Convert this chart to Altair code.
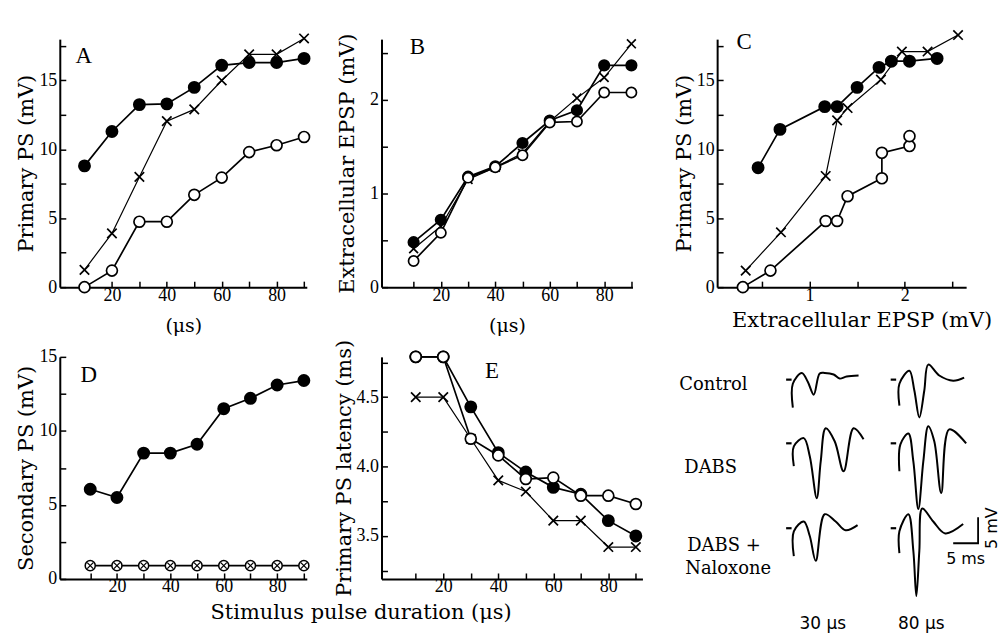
import altair as alt
import pandas as pd

# ---------------- data ----------------
dur = [10, 20, 30, 40, 50, 60, 70, 80, 90]

# A: primary PS (mV) vs stimulus duration
a_filled = [8.8, 11.3, 13.25, 13.3, 14.5, 16.1, 16.3, 16.3, 16.6]
a_cross = [1.25, 3.9, 8.0, 12.05, 12.9, 15.0, 16.9, 16.9, 18.05]
a_open = [0.0, 1.2, 4.75, 4.75, 6.7, 7.95, 9.8, 10.3, 10.9]

# B: extracellular EPSP (mV) vs stimulus duration
b_filled = [0.48, 0.72, 1.18, 1.29, 1.54, 1.78, 1.89, 2.37, 2.37]
b_cross = [0.41, 0.65, 1.15, 1.28, 1.43, 1.77, 2.02, 2.24, 2.60]
b_open = [0.28, 0.58, 1.17, 1.28, 1.41, 1.76, 1.77, 2.08, 2.08]

# C: primary PS vs extracellular EPSP
c_filled_x = [0.46, 0.69, 1.16, 1.29, 1.50, 1.73, 1.86, 2.05, 2.34]
c_filled_y = [8.67, 11.45, 13.1, 13.1, 14.5, 15.95, 16.4, 16.4, 16.6]
c_cross_x = [0.33, 0.70, 1.17, 1.29, 1.40, 1.75, 1.97, 2.24, 2.56]
c_cross_y = [1.2, 3.98, 8.07, 12.1, 13.0, 15.06, 17.1, 17.1, 18.3]
c_open_x = [0.30, 0.59, 1.17, 1.29, 1.40, 1.76, 1.76, 2.05, 2.05]
c_open_y = [0.0, 1.2, 4.8, 4.8, 6.6, 7.9, 9.75, 10.24, 10.96]

# D: secondary PS (mV)
d_filled = [6.06, 5.5, 8.5, 8.5, 9.1, 11.5, 12.2, 13.1, 13.4]
d_crossed = [0.9, 0.9, 0.9, 0.9, 0.9, 0.9, 0.9, 0.9, 0.9]

# E: primary PS latency (ms)
e_filled = [4.79, 4.79, 4.43, 4.10, 3.96, 3.85, 3.80, 3.61, 3.50]
e_open = [4.79, 4.79, 4.20, 4.08, 3.91, 3.92, 3.79, 3.79, 3.73]
e_cross = [4.50, 4.50, 4.20, 3.90, 3.82, 3.61, 3.61, 3.42, 3.42]

# F: field potential traces (time ms, voltage mV relative to trace start)
c30_t = [0.8, 0.8, 2.6, 3.8, 5.0, 6.2, 7.2, 9.0, 10.2, 11.6, 14.0]
c30_v = [-5.4, -0.8, 1.3, -0.4, -2.9, 1.2, 1.3, 1.0, 0.2, 0.6, 0.8]
c80_t = [1.2, 1.2, 3.2, 4.2, 5.2, 6.2, 7.0, 9.2, 12.0, 14.2]
c80_v = [-5.0, -0.8, 1.7, -2.1, -7.3, -2.1, 2.9, 0.8, -0.2, 0.4]
d30_t = [1.0, 1.0, 3.0, 4.2, 5.6, 6.4, 7.4, 9.2, 11.0, 13.0, 15.0]
d30_v = [-4.4, -0.6, 1.0, -2.5, -10.6, -3.5, 2.9, 0.4, -5.4, 2.9, 0.8]
d80_t = [1.2, 1.4, 3.0, 4.0, 5.0, 6.0, 7.0, 8.2, 9.6, 11.2, 14.6]
d80_v = [-5.4, -0.2, 1.9, -3.5, -12.7, -3.5, 3.3, 0.4, -9.6, 2.7, 0.0]
n30_t = [1.0, 1.0, 3.0, 4.2, 5.4, 7.2, 9.4, 11.4, 13.8]
n30_v = [-5.4, -0.6, 1.3, -1.5, -6.3, 2.7, 1.3, -0.4, 0.6]
n80_t = [1.2, 1.2, 3.0, 4.0, 4.6, 5.2, 5.8, 8.0, 10.4, 14.0]
n80_v = [-4.8, -0.6, 2.7, -4.4, -13.1, -4.4, 3.8, 1.3, -1.0, 0.8]

row_labels = ["Control", "DABS", "DABS +", "Naloxone"]
col_labels = ["30 μs", "80 μs"]
scale_ms = 5
scale_mv = 5

# ---------------- layout (trace panel placement) ----------------
ROW_V = [38.5, 26.2, 9.8]          # baseline of each trace row (mV in panel units)
COL_T = [24.4, 45.4]               # start of each trace column (ms in panel units)
ROWLAB_T = [2.4, 3.4, 4.0, 3.6]
ROWLAB_V = [37.5, 21.5, 6.4, 1.9]
COLLAB_T = [31.2, 51.0]
COLLAB_V = -8.7
BAR_CORNER = (62.4, 6.9)

SERIF = "DejaVu Serif"
TICKF = "Liberation Serif"
CROSS = "M-1,-1L1,1M-1,1L1,-1"


def frame(xs, ys):
    return pd.DataFrame({"x": xs, "y": ys, "i": list(range(len(xs)))})


def panel(series, xscale, yscale, xaxis, yaxis, w, h, letter, lx, ly, msize=120):
    def enc(c):
        return c.encode(
            x=alt.X("x:Q", scale=xscale, axis=xaxis),
            y=alt.Y("y:Q", scale=yscale, axis=yaxis),
            order="i:Q",
        )

    layers = []
    for df, kind in series:
        lw = 1.2 if kind == "cross" else 1.7
        layers.append(enc(alt.Chart(df).mark_line(color="black", strokeWidth=lw, clip=False)))
    for df, kind in series:
        if kind == "filled":
            layers.append(enc(alt.Chart(df).mark_point(shape="circle", filled=True, fill="black",
                                                       stroke="black", size=msize, opacity=1, clip=False)))
        elif kind == "open":
            layers.append(enc(alt.Chart(df).mark_point(shape="circle", filled=True, fill="white",
                                                       stroke="black", strokeWidth=1.7, size=msize,
                                                       opacity=1, clip=False)))
        elif kind == "cross":
            layers.append(enc(alt.Chart(df).mark_point(shape=CROSS, filled=False, stroke="black",
                                                       strokeWidth=1.7, size=msize * 0.75,
                                                       opacity=1, clip=False)))
        elif kind == "crossed":
            layers.append(enc(alt.Chart(df).mark_point(shape="circle", filled=True, fill="white",
                                                       stroke="black", strokeWidth=1.5, size=msize * 0.85,
                                                       opacity=1, clip=False)))
            layers.append(enc(alt.Chart(df).mark_point(shape=CROSS, filled=False, stroke="black",
                                                       strokeWidth=1.3, size=msize * 0.3,
                                                       opacity=1, clip=False)))
    layers.append(
        alt.Chart(pd.DataFrame({"t": [letter]}))
        .mark_text(font=TICKF, fontSize=23, color="black", align="center", baseline="middle")
        .encode(x=alt.value(lx), y=alt.value(ly), text="t:N")
    )
    return alt.layer(*layers).properties(width=w, height=h)


DUR_TICKS = [10, 20, 30, 40, 50, 60, 70, 80, 90]
DUR_EXPR = "datum.value % 20 == 0 ? datum.label : ''"
XPAD = 5   # gap between x axis line and its labels
YPAD = 9   # gap between y axis line and its labels


def dur_axis(title=None, pad=13, **kw):
    return alt.Axis(values=DUR_TICKS, labelExpr=DUR_EXPR, title=title, labelPadding=XPAD,
                    titlePadding=pad, **kw)


def yaxis(values, expr, title, pad, **kw):
    return alt.Axis(values=values, labelExpr=expr, title=title, labelPadding=YPAD,
                    titlePadding=pad, titleFontSize=21, **kw)


FIVE = [0, 2.5, 5, 7.5, 10, 12.5, 15, 17.5]
FIVE_EXPR = "datum.value % 5 == 0 ? format(datum.value, 'd') : ''"

# ---- A ----
chart_a = panel(
    [(frame(dur, a_filled), "filled"), (frame(dur, a_cross), "cross"), (frame(dur, a_open), "open")],
    alt.Scale(domain=[1, 91], nice=False, zero=False),
    alt.Scale(domain=[0, 18], nice=False),
    dur_axis("(μs)"),
    yaxis(FIVE, FIVE_EXPR, "Primary PS (mV)", 2),
    248, 249, "A", 24, 17,
)

# ---- B ----
chart_b = panel(
    [(frame(dur, b_filled), "filled"), (frame(dur, b_cross), "cross"), (frame(dur, b_open), "open")],
    alt.Scale(domain=[-1.8, 90.4], nice=False, zero=False),
    alt.Scale(domain=[0, 2.65], nice=False),
    dur_axis("(μs)"),
    yaxis([0, 0.5, 1, 1.5, 2, 2.5], "datum.value % 1 == 0 ? format(datum.value, 'd') : ''",
          "Extracellular EPSP (mV)", 12),
    252, 249, "B", 36, 8, msize=105,
)

# ---- C ----
chart_c = panel(
    [(frame(c_filled_x, c_filled_y), "filled"), (frame(c_cross_x, c_cross_y), "cross"),
     (frame(c_open_x, c_open_y), "open")],
    alt.Scale(domain=[0.03, 2.645], nice=False, zero=False),
    alt.Scale(domain=[0, 18], nice=False),
    alt.Axis(values=[0.5, 1, 1.5, 2, 2.5], labelExpr="datum.value % 1 == 0 ? format(datum.value, 'd') : ''",
             title="Extracellular EPSP (mV)", labelPadding=XPAD, titlePadding=6, titleFontSize=21,
             titleX=145, titleAlign="center"),
    yaxis(FIVE, FIVE_EXPR, "Primary PS (mV)", 2),
    250, 249, "C", 27, 3,
)

# ---- D ----
chart_d = panel(
    [(frame(dur, d_filled), "filled"), (frame(dur, d_crossed), "crossed")],
    alt.Scale(domain=[-1.4, 91.1], nice=False, zero=False),
    alt.Scale(domain=[0, 15], nice=False),
    dur_axis("Stimulus pulse duration (μs)", pad=6, titleX=302, titleAlign="center", titleFontSize=21),
    yaxis([0, 2.5, 5, 7.5, 10, 12.5, 15], FIVE_EXPR, "Secondary PS (mV)", 2),
    248, 223, "D", 29, 18,
)

# ---- E ----
chart_e = panel(
    [(frame(dur, e_filled), "filled"), (frame(dur, e_cross), "cross"), (frame(dur, e_open), "open")],
    alt.Scale(domain=[-2.45, 92.4], nice=False, zero=False),
    alt.Scale(domain=[3.19, 4.79], nice=False, zero=False),
    dur_axis(None),
    yaxis([3.25, 3.5, 3.75, 4.0, 4.25, 4.5, 4.75],
          "round(datum.value * 100) % 50 == 0 ? format(datum.value, '.1f') : ''",
          "Primary PS latency (ms)", 2),
    262, 223, "E", 111, 14,
)

# ---- F: traces ----
waves = [
    (0, 0, c30_t, c30_v), (0, 1, c80_t, c80_v),
    (1, 0, d30_t, d30_v), (1, 1, d80_t, d80_v),
    (2, 0, n30_t, n30_v), (2, 1, n80_t, n80_v),
]
rows = []
dots = []
for k, (r, c, ts, vs) in enumerate(waves):
    for j, (t, v) in enumerate(zip(ts, vs)):
        rows.append({"x": COL_T[c] + t, "y": ROW_V[r] + v, "w": k, "i": j})
    dots.append({"x": COL_T[c], "y": ROW_V[r]})
wave_df = pd.DataFrame(rows)
dot_df = pd.DataFrame(dots)

F_LEFT = 10.0   # ms value at the left edge of panel F's plot area
fx = alt.Scale(domain=[F_LEFT, 66], nice=False, zero=False)
fy = alt.Scale(domain=[0, 42.9], nice=False, zero=False)


def fenc(c, extra=None):
    kw = dict(x=alt.X("x:Q", scale=fx, axis=None), y=alt.Y("y:Q", scale=fy, axis=None))
    if extra:
        kw.update(extra)
    return c.encode(**kw)


trace_lines = fenc(alt.Chart(wave_df).mark_line(color="black", strokeWidth=2.0, interpolate="catmull-rom",
                                                clip=False),
                   {"detail": "w:N", "order": "i:Q"})
trace_dots = fenc(alt.Chart(dot_df).mark_point(shape="stroke", size=30, stroke="black", strokeWidth=2.2,
                                               opacity=1, clip=False))

bx, by = BAR_CORNER
bar_df = pd.DataFrame({"x": [bx - scale_ms, bx, bx], "y": [by, by, by + scale_mv], "i": [0, 1, 2]})
scale_bar = fenc(alt.Chart(bar_df).mark_line(color="black", strokeWidth=1.8, clip=False), {"order": "i:Q"})

rowlab_df = pd.DataFrame({"x": ROWLAB_T, "y": ROWLAB_V, "t": row_labels})
row_text = fenc(alt.Chart(rowlab_df).mark_text(font=SERIF, fontSize=18, color="black", align="left",
                                               baseline="middle"), {"text": "t:N"})
collab_df = pd.DataFrame({"x": COLLAB_T, "y": [COLLAB_V, COLLAB_V], "t": col_labels})
col_text = fenc(alt.Chart(collab_df).mark_text(font="DejaVu Sans", fontSize=17, color="black",
                                               align="center", baseline="middle"), {"text": "t:N"})
ms_df = pd.DataFrame({"x": [bx - scale_ms / 2], "y": [by - 3.1], "t": [f"{scale_ms} ms"]})
ms_text = fenc(alt.Chart(ms_df).mark_text(font="DejaVu Sans", fontSize=16, color="black", align="center",
                                          baseline="middle"), {"text": "t:N"})
mv_df = pd.DataFrame({"x": [bx + 2.8], "y": [by + scale_mv / 2 + 0.4], "t": [f"{scale_mv} mV"]})
mv_text = fenc(alt.Chart(mv_df).mark_text(font="DejaVu Sans", fontSize=16, color="black", align="center",
                                          baseline="middle", angle=270), {"text": "t:N"})

chart_f = alt.layer(trace_lines, trace_dots, scale_bar, row_text, col_text, ms_text, mv_text).properties(
    width=280, height=223)

chart = (
    alt.concat(chart_a, chart_b, chart_c, chart_d, chart_e, chart_f, columns=3,
               spacing={"row": 70, "column": 75}, bounds="flush")
    .properties(padding={"left": 8, "top": 17, "right": 0, "bottom": 0}, background="white")
    .configure_axis(domainColor="black", domainWidth=2, tickColor="black", tickWidth=1.5,
                    tickSize={"expr": "-6"},
                    labelColor="black", labelFont=TICKF, labelFontSize=18, titleFont=SERIF,
                    titleFontSize=19, titleFontWeight="normal", titleColor="black", grid=False,
                    labelFlush=False, labelOverlap=False)
    .configure_view(stroke=None)
)

chart.save("out.html", embed_options={"renderer": "svg", "actions": False})
